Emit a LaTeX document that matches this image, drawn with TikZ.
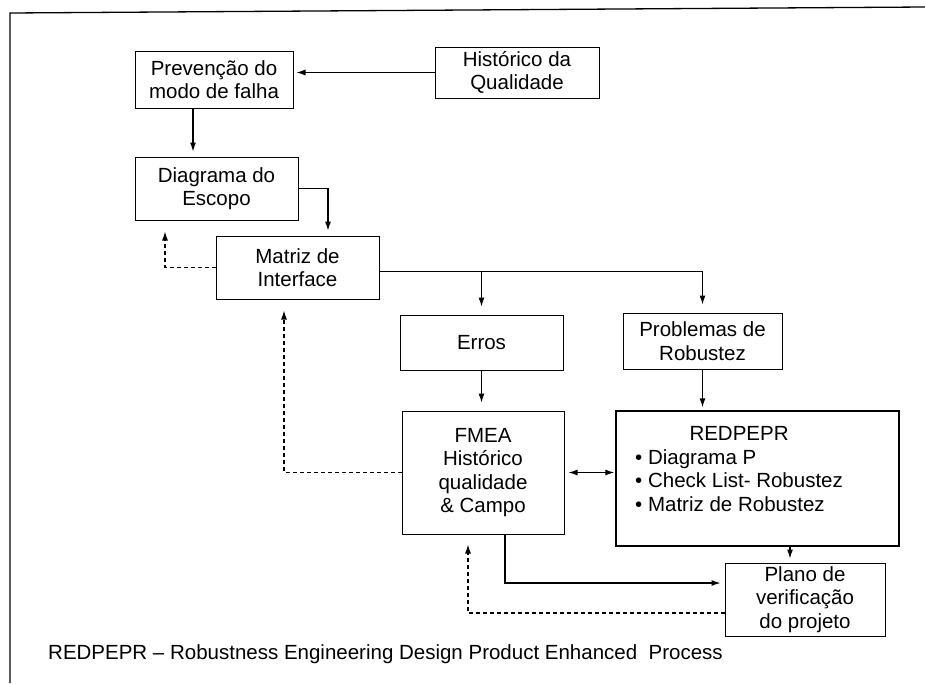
\documentclass[tikz,border=0pt]{standalone}
\usepackage{fontspec}
\setmainfont{Liberation Sans}
\usetikzlibrary{arrows.meta}
\begin{document}
\begin{tikzpicture}[x=1pt,y=-1pt,
  font=\fontsize{20.5}{23.5}\selectfont,
  box/.style={draw,line width=1pt,inner sep=0pt,align=center},
  tip/.style={-{Latex[length=9pt,width=6pt]}},
  arr/.style={line width=1.1pt,tip,shorten >=5pt},
  darr/.style={line width=1.1pt,dash pattern=on 4pt off 3pt,tip,shorten >=11pt}]
\useasboundingbox (0,0) rectangle (925,683);
% outer frame (top and left edges)
\draw[line width=1.3pt] (10,683) -- (10,13) -- (925,7);

% boxes
\node[box,minimum width=158,minimum height=57] (prev) at (214,79.5) {Prevenção do\\modo de falha};
\node[box,minimum width=164,minimum height=51] (hist) at (517,72.5) {Histórico da\\Qualidade};
\node[box,minimum width=163,minimum height=63] (diag) at (216.5,188.5) {Diagrama do\\Escopo};
\node[box,minimum width=163,minimum height=63] (matriz) at (297.5,267.5) {Matriz de\\Interface};
\node[box,minimum width=163,minimum height=55] (erros) at (481.5,342.5) {Erros};
\node[box,minimum width=159,minimum height=56] (prob) at (702.5,341) {Problemas de\\Robustez};
\node[box,minimum width=162,minimum height=123] (fmea) at (483,472.5) {FMEA\\Histórico\\qualidade\\\& Campo};
\node[box,line width=1.4pt,minimum width=283,minimum height=135] (red) at (757.5,478.5) {};
\node[inner sep=0pt,anchor=north west] (redtxt) at (635,424) {%
  \begin{tabular}{@{}l@{}}\multicolumn{1}{@{}c@{}}{REDPEPR}\\
  • Diagrama P\\ • Check List- Robustez\\ • Matriz de Robustez\end{tabular}};
\node[box,minimum width=160,minimum height=73] (plano) at (805,599.5) {Plano de\\verificação\\do projeto};

% connectors
\draw[arr,shorten >=3pt] (hist.west) -- (hist.west -| prev.east);
\draw[arr] ([xshift=-21pt]prev.south) -- ([xshift=-21pt]prev.south |- diag.north);
\draw[arr] (diag.east) -| ([xshift=30.5pt]matriz.north);
\draw[darr] (matriz.west) -| ([xshift=-51.5pt]diag.south);
\draw[arr,shorten >=8pt] ([yshift=-4pt]matriz.east) -| (erros.north);
\draw[arr,shorten >=8pt] ([yshift=-4pt]matriz.east) -| (prob.north);
\draw[arr,shorten >=8pt] (erros.south) -- (erros.south |- fmea.north);
\draw[arr,shorten >=3pt] (prob.south) -- (prob.south |- red.north);
\draw[line width=1.1pt,{Latex[length=9pt,width=6pt]}-{Latex[length=9pt,width=6pt]},shorten <=4pt,shorten >=1pt] (fmea.east) -- (fmea.east -| red.west);
\draw[darr] (fmea.west) -| ([xshift=-13.5pt]matriz.south);
\draw[arr,shorten >=4pt] ([xshift=32.5pt]red.south) -- ([xshift=32.5pt]red.south |- plano.north);
\draw[arr,shorten >=4pt] ([xshift=22pt]fmea.south) |- ([yshift=16.5pt]plano.west);
\draw[darr,shorten >=10pt] ([yshift=-13.5pt]plano.west) -| ([xshift=-15pt]fmea.south);

% footnote
\node[anchor=base west,inner sep=0pt] (legend) at (48,659) {REDPEPR – Robustness Engineering Design Product Enhanced\ \ Process};
\end{tikzpicture}
\end{document}
